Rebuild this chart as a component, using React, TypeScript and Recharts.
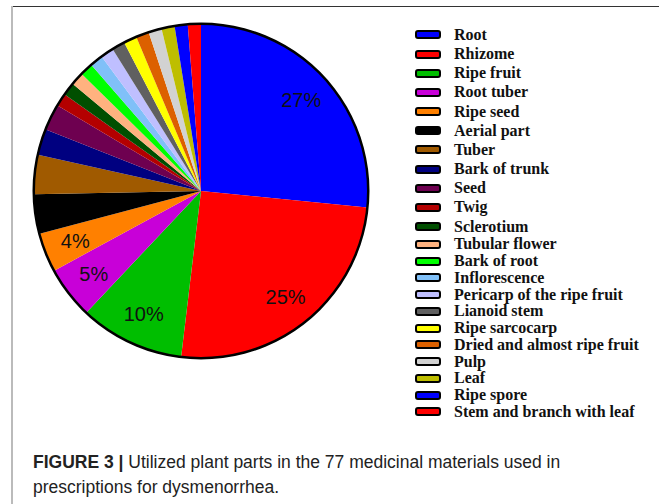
import React from "react";
import { PieChart, Pie, Cell } from "recharts";

const categories: string[] = [
  "Root",
  "Rhizome",
  "Ripe fruit",
  "Root tuber",
  "Ripe seed",
  "Aerial part",
  "Tuber",
  "Bark of trunk",
  "Seed",
  "Twig",
  "Sclerotium",
  "Tubular flower",
  "Bark of root",
  "Inflorescence",
  "Pericarp of the ripe fruit",
  "Lianoid stem",
  "Ripe sarcocarp",
  "Dried and almost ripe fruit",
  "Pulp",
  "Leaf",
  "Ripe spore",
  "Stem and branch with leaf",
];

const counts: number[] = [21, 20, 8, 4, 3, 3, 3, 2, 2, 1, 1, 1, 1, 1, 1, 1, 1, 1, 1, 1, 1, 1];

const colors: string[] = [
  "#0000FF",
  "#FF0000",
  "#00BE00",
  "#C800D8",
  "#FF8000",
  "#000000",
  "#A05A00",
  "#000080",
  "#6E0050",
  "#B40000",
  "#004F00",
  "#FFB27F",
  "#00FF00",
  "#80C0F8",
  "#BFBFFF",
  "#606060",
  "#FFFF00",
  "#DC6000",
  "#D2D2D2",
  "#BEBE00",
  "#0000FF",
  "#FF0000",
];

const labelledCount = 5;

const data = categories.map((name, i) => ({ name, value: counts[i] }));
const outline = [{ name: "outline", value: 1 }];

const RAD = Math.PI / 180;

const renderLabel = (props: any) => {
  const { cx, cy, midAngle, outerRadius, percent, index } = props;
  if (index >= labelledCount) return null;
  const r = outerRadius * 0.81;
  const x = cx + r * Math.cos(-midAngle * RAD);
  const y = cy + r * Math.sin(-midAngle * RAD);
  return (
    <text
      x={x}
      y={y}
      textAnchor="middle"
      dominantBaseline="central"
      fill="#111"
      fontFamily="'Liberation Sans', Arial, sans-serif"
      fontSize={20}
    >
      {Math.round(percent * 100)}%
    </text>
  );
};

export default function App() {
  return (
    <div
      style={{
        position: "absolute",
        left: 0,
        top: 0,
        width: 659,
        height: 504,
        background: "#fff",
        overflow: "hidden",
      }}
    >
      <div
        style={{
          position: "absolute",
          left: 12,
          top: 6,
          width: 647,
          height: 1,
          background: "#333",
        }}
      />
      <div
        style={{
          position: "absolute",
          left: 11,
          top: 6,
          width: 2,
          height: 498,
          background: "#bbb",
        }}
      />
      <div style={{ position: "absolute", left: 0, top: 0 }}>
        <PieChart width={400} height={400} margin={{ top: 0, right: 0, bottom: 0, left: 0 }}>
          <Pie
            data={data}
            dataKey="value"
            nameKey="name"
            cx={201}
            cy={191}
            outerRadius={167}
            startAngle={90}
            endAngle={-270}
            stroke="none"
            label={renderLabel}
            labelLine={false}
            isAnimationActive={false}
          >
            {data.map((d, i) => (
              <Cell key={d.name + i} fill={colors[i]} />
            ))}
          </Pie>
          <Pie
            data={outline}
            dataKey="value"
            cx={201}
            cy={191}
            innerRadius={166}
            outerRadius={168.5}
            startAngle={90}
            endAngle={-270}
            fill="#000"
            stroke="none"
            isAnimationActive={false}
          />
        </PieChart>
      </div>
      <div style={{ position: "absolute", left: 415, top: 25.4 }}>
        {categories.map((name, i) => (
          <div
            key={name + i}
            style={{
              height: i <= 10 ? 19.17 : 16.75,
              display: "flex",
              alignItems: "center",
            }}
          >
            <div
              style={{
                width: 22,
                height: 5,
                border: "2px solid #000",
                borderRadius: 3,
                background: colors[i],
                flex: "none",
              }}
            />
            <span
              style={{
                marginLeft: 13,
                fontFamily: "'Liberation Serif', 'Times New Roman', serif",
                fontWeight: "bold",
                fontSize: 16,
                color: "#111",
                whiteSpace: "nowrap",
                lineHeight: "16px",
              }}
            >
              {name}
            </span>
          </div>
        ))}
      </div>
      <div
        style={{
          position: "absolute",
          left: 33,
          top: 449.5,
          fontFamily: "'Liberation Sans', Arial, sans-serif",
          fontSize: 17.5,
          lineHeight: "25px",
          color: "#222",
          whiteSpace: "nowrap",
        }}
      >
        <b>FIGURE 3 |</b> Utilized plant parts in the 77 medicinal materials used in
        <br />
        prescriptions for dysmenorrhea.
      </div>
    </div>
  );
}
